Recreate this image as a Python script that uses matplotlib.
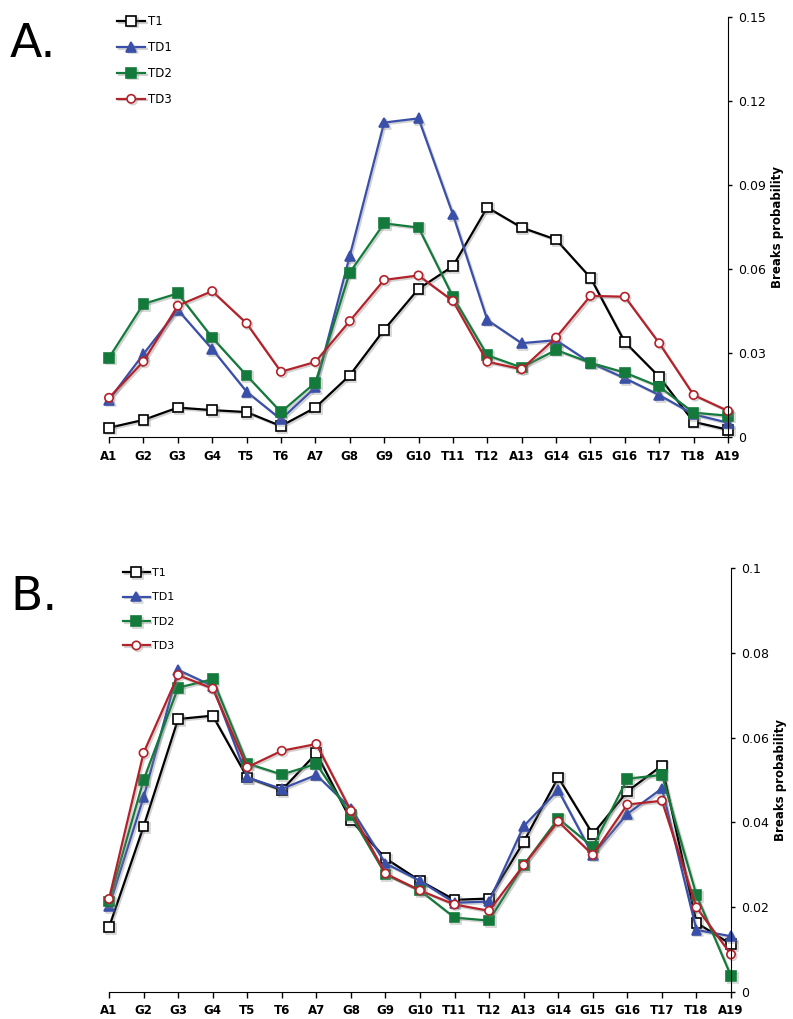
import matplotlib
matplotlib.use('Agg')
import matplotlib.pyplot as plt
import matplotlib.patheffects as pe
from matplotlib.ticker import MultipleLocator, FuncFormatter
import numpy as np

# positions along the sequence
cats = ["A1", "G2", "G3", "G4", "T5", "T6", "A7", "G8", "G9", "G10",
        "T11", "T12", "A13", "G14", "G15", "G16", "T17", "T18", "A19"]

# panel A
a_t1 = [0.0033, 0.0061, 0.0105, 0.0096, 0.0089, 0.0039, 0.0105, 0.022, 0.0383, 0.0529,
        0.061, 0.082, 0.0748, 0.0705, 0.0569, 0.0339, 0.0215, 0.0054, 0.0026]
a_td1 = [0.0133, 0.0296, 0.0454, 0.0314, 0.0162, 0.0063, 0.0177, 0.0646, 0.1123, 0.1138,
         0.0795, 0.0418, 0.0335, 0.0346, 0.0265, 0.021, 0.015, 0.0081, 0.0051]
a_td2 = [0.0283, 0.0475, 0.0513, 0.0355, 0.022, 0.0089, 0.0194, 0.0587, 0.0763, 0.0748,
         0.0501, 0.0292, 0.0248, 0.0311, 0.0265, 0.023, 0.018, 0.0087, 0.0076]
a_td3 = [0.014, 0.0269, 0.0469, 0.0521, 0.0406, 0.0233, 0.0268, 0.0414, 0.0561, 0.0577,
         0.0486, 0.0269, 0.0242, 0.0355, 0.0504, 0.0501, 0.0335, 0.015, 0.0093]

# panel B
b_t1 = [0.0152, 0.039, 0.0644, 0.0652, 0.0506, 0.0476, 0.0563, 0.0405, 0.0315, 0.0262,
        0.0217, 0.022, 0.0354, 0.0506, 0.0372, 0.0473, 0.0534, 0.0163, 0.0112]
b_td1 = [0.0201, 0.0459, 0.076, 0.0722, 0.0506, 0.0479, 0.0512, 0.0433, 0.0303, 0.0262,
         0.021, 0.0213, 0.0391, 0.0476, 0.0323, 0.042, 0.048, 0.0146, 0.0131]
b_td2 = [0.0213, 0.05, 0.0718, 0.0738, 0.0539, 0.0513, 0.0538, 0.0417, 0.0277, 0.0239,
         0.0175, 0.0168, 0.0299, 0.0409, 0.0342, 0.0503, 0.0512, 0.0228, 0.0037]
b_td3 = [0.0219, 0.0564, 0.0748, 0.0716, 0.053, 0.0569, 0.0585, 0.0427, 0.0279, 0.0239,
         0.0206, 0.0191, 0.0299, 0.0402, 0.0323, 0.0442, 0.0451, 0.0199, 0.0088]

names = ["T1", "TD1", "TD2", "TD3"]

styles = [dict(color='black', marker='s', mfc='white', mec='black', ms=7),
          dict(color='#3a4fa8', marker='^', mfc='#3a4fa8', mec='#3a4fa8', ms=7),
          dict(color='#147a3c', marker='s', mfc='#147a3c', mec='#147a3c', ms=7),
          dict(color='#b2222a', marker='o', mfc='white', mec='#b2222a', ms=6)]

shadow = [pe.SimpleLineShadow(offset=(1.2, -1.2), shadow_color='gray', alpha=0.35),
          pe.Normal()]

W, H = 793, 1019
fig = plt.figure(figsize=(W / 100, H / 100), dpi=100)


def panel(rect, series, ymax, step, label, leg_xy, leg_fs, leg_sp):
    ax = fig.add_axes(rect)
    x = np.arange(len(cats))
    for vals, name, st in zip(series, names, styles):
        ax.plot(x, vals, lw=1.6, mew=1.2, label=name, clip_on=False,
                path_effects=shadow, **st)
    ax.set_xlim(0, len(cats) - 1)
    ax.set_ylim(0, ymax)
    ax.set_xticks(x)
    ax.set_xticklabels(cats, fontsize=8.5, fontweight='bold')
    ax.yaxis.set_major_locator(MultipleLocator(step))
    ax.yaxis.set_major_formatter(FuncFormatter(lambda v, p: f"{v:g}"))
    ax.yaxis.tick_right()
    ax.yaxis.set_label_position('right')
    ax.set_ylabel("Breaks probability", fontsize=8.5, fontweight='bold', labelpad=4)
    ax.spines['left'].set_visible(False)
    ax.spines['top'].set_visible(False)
    ax.tick_params(axis='x', length=4, pad=5, width=1)
    ax.tick_params(axis='y', length=3, pad=4, labelsize=9, width=1)
    ax.legend(loc='upper left', bbox_to_anchor=leg_xy, bbox_transform=fig.transFigure,
              frameon=False, fontsize=leg_fs, handlelength=2.4, handletextpad=0.25,
              labelspacing=leg_sp, borderpad=0, borderaxespad=0)
    fig.text(10 / W, label[1], label[0], fontsize=34, ha='left', va='baseline')
    return ax


panel([109 / W, 1 - 437 / H, 619 / W, 420 / H], [a_t1, a_td1, a_td2, a_td3],
      0.15, 0.03, ("A.", 1 - 57 / H), (117 / W, 1 - 15 / H), 8.5, 1.1)
panel([109 / W, 1 - 991.7 / H, 622 / W, 423.4 / H], [b_t1, b_td1, b_td2, b_td3],
      0.1, 0.02, ("B.", 1 - 610 / H), (123 / W, 1 - 568 / H), 8, 1.3)

fig.savefig("out.png", dpi=100)
